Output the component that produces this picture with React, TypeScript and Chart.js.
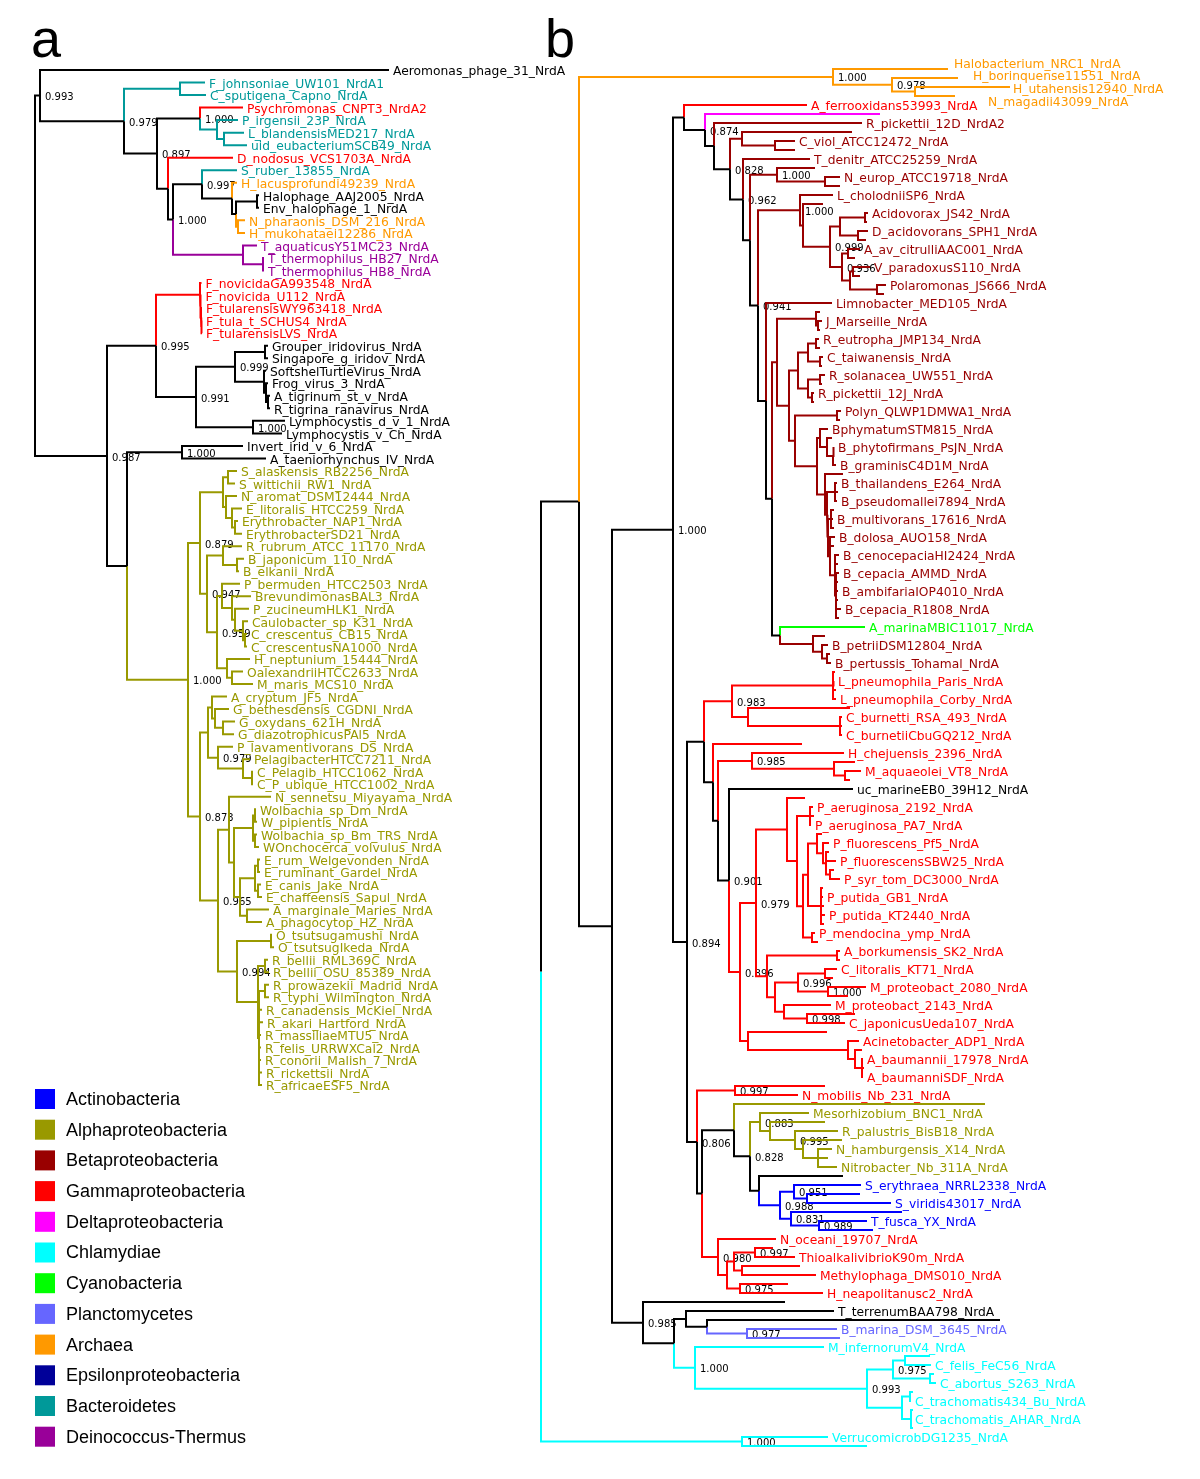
import React, { useEffect, useRef } from "react";
import { Chart, registerables } from "chart.js";

Chart.register(...registerables);

// [id, parent, depth from root, colour key, support value]; leaves use their label as id,
// unlabelled leaves start with "_u".
type TreeNode = [string, string | null, number, string, string?];

const palette: Record<string, string> = {
  k: "#000000",
  ac: "#0000ff",
  al: "#999900",
  be: "#990000",
  ga: "#ff0000",
  de: "#ff00ff",
  ch: "#00ffff",
  cy: "#00ff00",
  pl: "#6666ff",
  ar: "#ff9900",
  ep: "#000099",
  bd: "#009999",
  dt: "#990099",
};

const legendNames = [
  "Actinobacteria",
  "Alphaproteobacteria",
  "Betaproteobacteria",
  "Gammaproteobacteria",
  "Deltaproteobacteria",
  "Chlamydiae",
  "Cyanobacteria",
  "Planctomycetes",
  "Archaea",
  "Epsilonproteobacteria",
  "Bacteroidetes",
  "Deinococcus-Thermus",
];
const legendColors = ["ac", "al", "be", "ga", "de", "ch", "cy", "pl", "ar", "ep", "bd", "dt"];

// ---------------- Panel a ----------------
const treeA_top: TreeNode[] = [
  ["rA", null, 0, "k"],
  ["T", "rA", 5, "k", "0.993"],
  ["Aeromonas_phage_31_NrdA", "T", 354, "k"],
  ["N1", "T", 89, "k", "0.979"],
  ["Bc1", "N1", 145, "bd"],
  ["F_johnsoniae_UW101_NrdA1", "Bc1", 170, "bd"],
  ["C_sputigena_Capno_NrdA", "Bc1", 171, "bd"],
  ["N2", "N1", 122, "k", "0.897"],
  ["N3", "N2", 165, "k", "1.000"],
  ["Psychromonas_CNPT3_NrdA2", "N3", 208, "ga"],
  ["N4", "N3", 182, "bd"],
  ["P_irgensii_23P_NrdA", "N4", 203, "bd"],
  ["N5", "N4", 189, "bd"],
  ["L_blandensisMED217_NrdA", "N5", 209, "bd"],
  ["uid_eubacteriumSCB49_NrdA", "N5", 212, "bd"],
  ["N6", "N2", 133, "k"],
  ["D_nodosus_VCS1703A_NrdA", "N6", 198, "ga"],
  ["N7", "N6", 138, "k", "1.000"],
  ["N8", "N7", 167, "k", "0.997"],
  ["S_ruber_13855_NrdA", "N8", 202, "bd"],
  ["N11", "N8", 197, "k"],
  ["H_lacusprofundi49239_NrdA", "N11", 202, "ar"],
  ["N12", "N11", 201, "k"],
  ["N13", "N12", 222, "k"],
  ["Halophage_AAJ2005_NrdA", "N13", 224, "k"],
  ["Env_halophage_1_NrdA", "N13", 224, "k"],
  ["N14", "N12", 203, "ar"],
  ["N_pharaonis_DSM_216_NrdA", "N14", 210, "ar"],
  ["H_mukohataei12286_NrdA", "N14", 210, "ar"],
  ["N9", "N7", 208, "dt"],
  ["T_aquaticusY51MC23_NrdA", "N9", 222, "dt"],
  ["N10", "N9", 228, "dt"],
  ["T_thermophilus_HB27_NrdA", "N10", 229, "dt"],
  ["T_thermophilus_HB8_NrdA", "N10", 229, "dt"],
];

const treeA_virus: TreeNode[] = [
  ["R2", "rA", 72, "k", "0.987"],
  ["M2", "R2", 121, "k", "0.995"],
  ["F1", "M2", 165, "ga"],
  ["F_novicidaGA993548_NrdA", "F1", 166.5, "ga"],
  ["F2", "F1", 165.5, "ga"],
  ["F_novicida_U112_NrdA", "F2", 166.5, "ga"],
  ["F3", "F2", 166, "ga"],
  ["F_tularensisWY963418_NrdA", "F3", 167, "ga"],
  ["F4", "F3", 166.5, "ga"],
  ["F_tula_t_SCHUS4_NrdA", "F4", 167, "ga"],
  ["F_tularensisLVS_NrdA", "F4", 167, "ga"],
  ["M3", "M2", 161, "k", "0.991"],
  ["M4", "M3", 200, "k", "0.999"],
  ["M5", "M4", 230, "k"],
  ["Grouper_iridovirus_NrdA", "M5", 233, "k"],
  ["Singapore_g_iridov_NrdA", "M5", 233, "k"],
  ["M6", "M4", 229, "k"],
  ["SoftshelTurtleVirus_NrdA", "M6", 231, "k"],
  ["M7", "M6", 231, "k"],
  ["Frog_virus_3_NrdA", "M7", 233, "k"],
  ["M8", "M7", 233, "k"],
  ["A_tigrinum_st_v_NrdA", "M8", 235, "k"],
  ["R_tigrina_ranavirus_NrdA", "M8", 235, "k"],
  ["M9", "M3", 218, "k", "1.000"],
  ["Lymphocystis_d_v_1_NrdA", "M9", 250, "k"],
  ["Lymphocystis_v_Ch_NrdA", "M9", 247, "k"],
];

const treeA_alpha1: TreeNode[] = [
  ["A1", "R2", 92, "k"],
  ["I", "A1", 147, "k", "1.000"],
  ["Invert_irid_v_6_NrdA", "I", 208, "k"],
  ["A_taeniorhynchus_IV_NrdA", "I", 231, "k"],
  ["AL0", "A1", 153, "al", "1.000"],
  ["AL1", "AL0", 165, "al", "0.879"],
  ["Sp2", "AL1", 188, "al"],
  ["Sp1", "Sp2", 193, "al"],
  ["S_alaskensis_RB2256_NrdA", "Sp1", 202, "al"],
  ["S_wittichii_RW1_NrdA", "Sp1", 200, "al"],
  ["SpB", "Sp2", 191, "al"],
  ["N_aromat_DSM12444_NrdA", "SpB", 202, "al"],
  ["E1", "SpB", 197, "al"],
  ["E_litoralis_HTCC259_NrdA", "E1", 207, "al"],
  ["E2", "E1", 200, "al"],
  ["Erythrobacter_NAP1_NrdA", "E2", 203, "al"],
  ["ErythrobacterSD21_NrdA", "E2", 207, "al"],
  ["AL1b", "AL1", 172, "al", "0.947"],
  ["RB", "AL1b", 188, "al"],
  ["R_rubrum_ATCC_11170_NrdA", "RB", 207, "al"],
  ["Br", "RB", 202, "al"],
  ["B_japonicum_110_NrdA", "Br", 209, "al"],
  ["B_elkanii_NrdA", "Br", 204, "al"],
  ["CA", "AL1b", 182, "al", "0.959"],
  ["CB0", "CA", 187, "al"],
  ["P_bermuden_HTCC2503_NrdA", "CB0", 205, "al"],
  ["CB1", "CB0", 197, "al"],
  ["BrevundimonasBAL3_NrdA", "CB1", 216, "al"],
  ["CB2", "CB1", 200, "al"],
  ["P_zucineumHLK1_NrdA", "CB2", 214, "al"],
  ["CC", "CB2", 208, "al"],
  ["Caulobacter_sp_K31_NrdA", "CC", 213, "al"],
  ["CC2", "CC", 210, "al"],
  ["C_crescentus_CB15_NrdA", "CC2", 212, "al"],
  ["C_crescentusNA1000_NrdA", "CC2", 212, "al"],
  ["HY", "CA", 192, "al"],
  ["H_neptunium_15444_NrdA", "HY", 215, "al"],
  ["HY2", "HY", 197, "al"],
  ["OalexandriiHTCC2633_NrdA", "HY2", 208, "al"],
  ["M_maris_MCS10_NrdA", "HY2", 218, "al"],
];

const treeA_alpha2: TreeNode[] = [
  ["AL3", "AL0", 165, "al", "0.873"],
  ["AS", "AL3", 173, "al"],
  ["AC0", "AS", 177, "al"],
  ["A_cryptum_JF5_NrdA", "AC0", 192, "al"],
  ["AC1", "AC0", 180, "al"],
  ["G_bethesdensis_CGDNI_NrdA", "AC1", 194, "al"],
  ["AC2", "AC1", 188, "al"],
  ["G_oxydans_621H_NrdA", "AC2", 200, "al"],
  ["G_diazotrophicusPAl5_NrdA", "AC2", 199, "al"],
  ["SR0", "AS", 183, "al", "0.979"],
  ["P_lavamentivorans_DS_NrdA", "SR0", 198, "al"],
  ["SR1", "SR0", 208, "al"],
  ["PelagibacterHTCC7211_NrdA", "SR1", 215, "al"],
  ["SR2", "SR1", 217, "al"],
  ["C_Pelagib_HTCC1062_NrdA", "SR2", 218, "al"],
  ["C_P_ubique_HTCC1002_NrdA", "SR2", 218, "al"],
  ["AL4", "AL3", 183, "al", "0.965"],
  ["AN", "AL4", 194, "al"],
  ["N_sennetsu_Miyayama_NrdA", "AN", 236, "al"],
  ["AN2", "AN", 199, "al"],
  ["W", "AN2", 218, "al"],
  ["W1", "W", 220, "al"],
  ["Wolbachia_sp_Dm_NrdA", "W1", 221, "al"],
  ["W_pipientis_NrdA", "W1", 222, "al"],
  ["W2", "W", 220, "al"],
  ["Wolbachia_sp_Bm_TRS_NrdA", "W2", 222, "al"],
  ["WOnchocerca_volvulus_NrdA", "W2", 224, "al"],
  ["EA", "AN2", 205, "al"],
  ["Eh", "EA", 220, "al"],
  ["Eh1", "Eh", 223, "al"],
  ["E_rum_Welgevonden_NrdA", "Eh1", 225, "al"],
  ["E_ruminant_Gardel_NrdA", "Eh1", 225, "al"],
  ["Eh2", "Eh", 223, "al"],
  ["E_canis_Jake_NrdA", "Eh2", 226, "al"],
  ["E_chaffeensis_Sapul_NrdA", "Eh2", 227, "al"],
  ["An", "EA", 212, "al"],
  ["A_marginale_Maries_NrdA", "An", 234, "al"],
  ["A_phagocytop_HZ_NrdA", "An", 227, "al"],
  ["RK", "AL4", 202, "al", "0.994"],
  ["Or", "RK", 236, "al"],
  ["O_tsutsugamushi_NrdA", "Or", 237, "al"],
  ["O_tsutsugIkeda_NrdA", "Or", 239, "al"],
  ["RKa", "RK", 223, "al"],
  ["Rb", "RKa", 230, "al"],
  ["R_bellii_RML369C_NrdA", "Rb", 233, "al"],
  ["R_bellii_OSU_85389_NrdA", "Rb", 234, "al"],
  ["Rr", "RKa", 224, "al"],
  ["Rt", "Rr", 230, "al"],
  ["R_prowazekii_Madrid_NrdA", "Rt", 234, "al"],
  ["R_typhi_Wilmington_NrdA", "Rt", 234, "al"],
  ["R_canadensis_McKiel_NrdA", "Rr", 227, "al"],
  ["R_akari_Hartford_NrdA", "Rr", 228, "al"],
  ["R_massiliaeMTU5_NrdA", "Rr", 226, "al"],
  ["R_felis_URRWXCal2_NrdA", "Rr", 226, "al"],
  ["R_conorii_Malish_7_NrdA", "Rr", 226, "al"],
  ["R_rickettsii_NrdA", "Rr", 227, "al"],
  ["R_africaeESF5_NrdA", "Rr", 227, "al"],
];

// ---------------- Panel b ----------------
const treeB_archaea: TreeNode[] = [
  ["AR", "B1", 292, "ar", "1.000"],
  ["Halobacterium_NRC1_NrdA", "AR", 407, "ar"],
  ["AR2", "AR", 351, "ar", "0.978"],
  ["H_borinquense11551_NrdA", "AR2", 417, "ar"],
  ["AR3", "AR2", 374, "ar"],
  ["H_utahensis12940_NrdA", "AR3", 469, "ar"],
  ["N_magadii43099_NrdA", "AR3", 414, "ar"],
];

const treeB_spine: TreeNode[] = [
  ["rB", null, 0, "k"],
  ["B1", "rB", 38, "k"],
  ["B2", "B1", 71, "k"],
  ["B3", "B2", 132, "k", "1.000"],
];

const treeB_beta: TreeNode[] = [
  ["B5", "B3", 143, "k"],
  ["A_ferrooxidans53993_NrdA", "B5", 266, "ga"],
  ["B6", "B5", 164, "k", "0.874"],
  ["_u5", "B6", 339, "de"],
  ["B7", "B6", 173, "k"],
  ["R_pickettii_12D_NrdA2", "B7", 321, "be"],
  ["B8", "B7", 189, "k", "0.828"],
  ["CV", "B8", 201, "be"],
  ["_u7", "CV", 311, "be"],
  ["CV2", "CV", 234, "be"],
  ["C_viol_ATCC12472_NrdA", "CV2", 254, "be"],
  ["_u9", "CV2", 254, "be"],
  ["B9", "B8", 202, "k", "0.962"],
  ["T_denitr_ATCC25259_NrdA", "B9", 269, "be"],
  ["B10", "B9", 209, "k"],
  ["NE", "B10", 236, "be", "1.000"],
  ["_u11", "NE", 274, "be"],
  ["NE2", "NE", 284, "be"],
  ["N_europ_ATCC19718_NrdA", "NE2", 299, "be"],
  ["_u13", "NE2", 299, "be"],
  ["B11", "B10", 217, "k", "0.941"],
  ["CM", "B11", 259, "be", "1.000"],
  ["L_cholodniiSP6_NrdA", "CM", 292, "be"],
  ["CM2", "CM", 262, "be"],
  ["_u15", "CM2", 282, "be"],
  ["CM3", "CM2", 289, "be", "0.999"],
  ["AVa", "CM3", 299, "be"],
  ["AV1", "AVa", 324, "be"],
  ["Acidovorax_JS42_NrdA", "AV1", 327, "be"],
  ["_u17", "AV1", 326, "be"],
  ["AV2", "AVa", 317, "be"],
  ["D_acidovorans_SPH1_NrdA", "AV2", 327, "be"],
  ["_u19", "AV2", 325, "be"],
  ["AVb", "CM3", 301, "be", "0.936"],
  ["AVc", "AVb", 307, "be"],
  ["A_av_citrulliAAC001_NrdA", "AVc", 319, "be"],
  ["_u21", "AVc", 314, "be"],
  ["AVd", "AVb", 309, "be"],
  ["VP", "AVd", 312, "be"],
  ["V_paradoxusS110_NrdA", "VP", 329, "be"],
  ["_u23", "VP", 319, "be"],
  ["PO", "AVd", 336, "be"],
  ["Polaromonas_JS666_NrdA", "PO", 345, "be"],
  ["_u25", "PO", 343, "be"],
  ["B12", "B11", 225, "k"],
  ["Limnobacter_MED105_NrdA", "B12", 291, "be"],
  ["B13", "B12", 231, "k"],
  ["BM", "B13", 236, "be"],
  ["J", "BM", 275, "be"],
  ["_u27", "J", 279, "be"],
  ["J2", "J", 277, "be"],
  ["J_Marseille_NrdA", "J2", 281, "be"],
  ["_u29", "J2", 279, "be"],
  ["RB0", "BM", 248, "be"],
  ["RAL", "RB0", 257, "be"],
  ["RC", "RAL", 267, "be"],
  ["RC1", "RC", 275, "be"],
  ["R_eutropha_JMP134_NrdA", "RC1", 278, "be"],
  ["_u31", "RC1", 279, "be"],
  ["RC2", "RC", 279, "be"],
  ["C_taiwanensis_NrdA", "RC2", 282, "be"],
  ["_u33", "RC2", 281, "be"],
  ["RSP", "RAL", 267, "be"],
  ["RS", "RSP", 279, "be"],
  ["R_solanacea_UW551_NrdA", "RS", 284, "be"],
  ["_u35", "RS", 281, "be"],
  ["RP", "RSP", 271, "be"],
  ["R_pickettii_12J_NrdA", "RP", 273, "be"],
  ["_u37", "RP", 273, "be"],
  ["GB", "B13", 239, "k"],
  ["A_marinaMBIC11017_NrdA", "GB", 324, "cy"],
  ["BO", "GB", 272, "be"],
  ["_u63", "BO", 284, "be"],
  ["BO2", "BO", 281, "be"],
  ["B_petriiDSM12804_NrdA", "BO2", 287, "be"],
  ["BO3", "BO2", 286, "be"],
  ["_u65", "BO3", 289, "be"],
  ["B_pertussis_Tohamal_NrdA", "BO3", 290, "be"],
];

const treeB_burk: TreeNode[] = [
  ["BUR", "RB0", 254, "be"],
  ["PN", "BUR", 296, "be"],
  ["Polyn_QLWP1DMWA1_NrdA", "PN", 300, "be"],
  ["_u39", "PN", 299, "be"],
  ["BK", "BUR", 276, "be"],
  ["BP", "BK", 279, "be"],
  ["BphymatumSTM815_NrdA", "BP", 287, "be"],
  ["BP2", "BP", 286, "be"],
  ["_u41", "BP2", 291, "be"],
  ["BP3", "BP2", 292, "be"],
  ["B_phytofirmans_PsJN_NrdA", "BP3", 293, "be"],
  ["_u43", "BP3", 293, "be"],
  ["B_graminisC4D1M_NrdA", "BP3", 295, "be"],
  ["BX", "BK", 284, "be"],
  ["_u45", "BX", 302, "be"],
  ["BY", "BX", 286, "be"],
  ["TP", "BY", 294, "be"],
  ["B_thailandens_E264_NrdA", "TP", 296, "be"],
  ["_u47", "TP", 297, "be"],
  ["B_pseudomallei7894_NrdA", "TP", 296, "be"],
  ["BZ", "BY", 287, "be"],
  ["BMV", "BZ", 290, "be"],
  ["_u49", "BMV", 293, "be"],
  ["B_multivorans_17616_NrdA", "BMV", 292, "be"],
  ["_u51", "BMV", 293, "be"],
  ["BD", "BZ", 289, "be"],
  ["B_dolosa_AUO158_NrdA", "BD", 294, "be"],
  ["_u53", "BD", 293, "be"],
  ["BCC", "BD", 294, "be"],
  ["B_cenocepaciaHI2424_NrdA", "BCC", 298, "be"],
  ["_u55", "BCC", 297, "be"],
  ["BCC2", "BCC", 295, "be"],
  ["B_cepacia_AMMD_NrdA", "BCC2", 298, "be"],
  ["_u57", "BCC2", 297, "be"],
  ["B_ambifariaIOP4010_NrdA", "BCC2", 297, "be"],
  ["_u59", "BCC2", 297, "be"],
  ["B_cepacia_R1808_NrdA", "BCC2", 300, "be"],
  ["_u61", "BCC2", 298, "be"],
];

const treeB_gamma: TreeNode[] = [
  ["B14", "B3", 146, "k", "0.894"],
  ["B15", "B14", 163, "k"],
  ["G1", "B15", 191, "ga", "0.983"],
  ["LP", "G1", 292, "ga"],
  ["_u67", "LP", 294, "ga"],
  ["L_pneumophila_Paris_NrdA", "LP", 293, "ga"],
  ["_u69", "LP", 295, "ga"],
  ["L_pneumophila_Corby_NrdA", "LP", 295, "ga"],
  ["CX", "G1", 207, "ga"],
  ["_u71", "CX", 309, "ga"],
  ["Cox", "CX", 299, "ga"],
  ["C_burnetti_RSA_493_NrdA", "Cox", 301, "ga"],
  ["_u73", "Cox", 301, "ga"],
  ["C_burnetiiCbuGQ212_NrdA", "Cox", 301, "ga"],
  ["B16", "B15", 172, "k"],
  ["_u75", "B16", 261, "ga"],
  ["B17", "B16", 177, "k"],
  ["HM", "B17", 211, "ga", "0.985"],
  ["H_chejuensis_2396_NrdA", "HM", 303, "ga"],
  ["MA", "HM", 293, "ga"],
  ["_u77", "MA", 314, "ga"],
  ["MA2", "MA", 304, "ga"],
  ["M_aquaeolei_VT8_NrdA", "MA2", 320, "ga"],
  ["_u79", "MA2", 309, "ga"],
  ["B18", "B17", 188, "k", "0.901"],
  ["uc_marineEB0_39H12_NrdA", "B18", 312, "k"],
  ["G3", "B18", 199, "ga", "0.896"],
  ["G4", "G3", 215, "ga", "0.979"],
  ["PS", "G4", 246, "ga"],
  ["_u81", "PS", 264, "ga"],
  ["PS2", "PS", 256, "ga"],
  ["PAe", "PS2", 269, "ga"],
  ["P_aeruginosa_2192_NrdA", "PAe", 272, "ga"],
  ["_u83", "PAe", 273, "ga"],
  ["P_aeruginosa_PA7_NrdA", "PAe", 270, "ga"],
  ["PS3", "PS2", 262, "ga"],
  ["PFP", "PS3", 267, "ga"],
  ["PF", "PFP", 276, "ga"],
  ["_u85", "PF", 281, "ga"],
  ["PF2", "PF", 282, "ga"],
  ["P_fluorescens_Pf5_NrdA", "PF2", 288, "ga"],
  ["PF3", "PF2", 285, "ga"],
  ["_u87", "PF3", 288, "ga"],
  ["P_fluorescensSBW25_NrdA", "PF3", 295, "ga"],
  ["PF4", "PF3", 289, "ga"],
  ["_u89", "PF4", 293, "ga"],
  ["P_syr_tom_DC3000_NrdA", "PF4", 299, "ga"],
  ["PP", "PFP", 280, "ga"],
  ["_u91", "PP", 282, "ga"],
  ["P_putida_GB1_NrdA", "PP", 282, "ga"],
  ["_u93", "PP", 283, "ga"],
  ["P_putida_KT2440_NrdA", "PP", 284, "ga"],
  ["_u95", "PP", 283, "ga"],
  ["PM", "PS3", 271, "ga"],
  ["P_mendocina_ymp_NrdA", "PM", 274, "ga"],
  ["_u97", "PM", 277, "ga"],
  ["AB", "G4", 226, "ga"],
  ["ABk", "AB", 296, "ga"],
  ["A_borkumensis_SK2_NrdA", "ABk", 299, "ga"],
  ["_u99", "ABk", 299, "ga"],
  ["CL", "AB", 234, "ga"],
  ["CL1", "CL", 257, "ga", "0.996"],
  ["CLit", "CL1", 284, "ga"],
  ["C_litoralis_KT71_NrdA", "CLit", 296, "ga"],
  ["_u101", "CLit", 292, "ga"],
  ["MP", "CL1", 287, "ga", "1.000"],
  ["M_proteobact_2080_NrdA", "MP", 325, "ga"],
  ["_u103", "MP", 307, "ga"],
  ["CL2", "CL", 243, "ga"],
  ["M_proteobact_2143_NrdA", "CL2", 290, "ga"],
  ["CJ", "CL2", 266, "ga", "0.998"],
  ["_u105", "CJ", 314, "ga"],
  ["C_japonicusUeda107_NrdA", "CJ", 304, "ga"],
  ["AC", "G3", 207, "ga"],
  ["_u107", "AC", 286, "ga"],
  ["ACI", "AC", 307, "ga"],
  ["Acinetobacter_ADP1_NrdA", "ACI", 318, "ga"],
  ["ACI2", "ACI", 314, "ga"],
  ["_u109", "ACI2", 321, "ga"],
  ["ACI3", "ACI2", 321, "ga"],
  ["A_baumannii_17978_NrdA", "ACI3", 322, "ga"],
  ["_u111", "ACI3", 323, "ga"],
  ["A_baumanniSDF_NrdA", "ACI3", 322, "ga"],
];

const treeB_lower: TreeNode[] = [
  ["B19", "B14", 156, "k", "0.806"],
  ["NM", "B19", 194, "ga", "0.997"],
  ["_u113", "NM", 284, "ga"],
  ["N_mobilis_Nb_231_NrdA", "NM", 257, "ga"],
  ["B20", "B19", 161, "k"],
  ["B21", "B20", 193, "k"],
  ["_u115", "B21", 444, "al"],
  ["B22", "B21", 209, "k", "0.828"],
  ["MZ", "B22", 219, "al", "0.883"],
  ["Mesorhizobium_BNC1_NrdA", "MZ", 268, "al"],
  ["MZ2", "MZ", 229, "al"],
  ["_u117", "MZ2", 284, "al"],
  ["RPN", "MZ2", 254, "al", "0.995"],
  ["R_palustris_BisB18_NrdA", "RPN", 297, "al"],
  ["RPN2", "RPN", 262, "al"],
  ["_u119", "RPN2", 301, "al"],
  ["NH", "RPN2", 277, "al"],
  ["N_hamburgensis_X14_NrdA", "NH", 291, "al"],
  ["_u121", "NH", 287, "al"],
  ["Nitrobacter_Nb_311A_NrdA", "NH", 296, "al"],
  ["B23", "B22", 218, "k"],
  ["_u123", "B23", 302, "k"],
  ["ACT", "B23", 239, "ac", "0.988"],
  ["SE", "ACT", 253, "ac", "0.951"],
  ["S_erythraea_NRRL2338_NrdA", "SE", 320, "ac"],
  ["SE2", "SE", 266, "ac"],
  ["_u125", "SE2", 319, "ac"],
  ["S_viridis43017_NrdA", "SE2", 350, "ac"],
  ["TF", "ACT", 250, "ac", "0.831"],
  ["_u127", "TF", 361, "ac"],
  ["TF2", "TF", 278, "ac", "0.989"],
  ["T_fusca_YX_NrdA", "TF2", 326, "ac"],
  ["_u129", "TF2", 332, "ac"],
  ["G5", "B20", 177, "ga", "0.980"],
  ["N_oceani_19707_NrdA", "G5", 235, "ga"],
  ["G6", "G5", 186, "ga"],
  ["TH", "G6", 193, "ga"],
  ["TH1", "TH", 214, "ga", "0.997"],
  ["_u131", "TH1", 232, "ga"],
  ["ThioalkalivibrioK90m_NrdA", "TH1", 254, "ga"],
  ["TH2", "TH", 201, "ga"],
  ["_u133", "TH2", 259, "ga"],
  ["Methylophaga_DMS010_NrdA", "TH2", 275, "ga"],
  ["HN", "G6", 199, "ga", "0.975"],
  ["_u135", "HN", 247, "ga"],
  ["H_neapolitanusc2_NrdA", "HN", 282, "ga"],
];

const treeB_base: TreeNode[] = [
  ["B4", "B2", 102, "k", "0.985"],
  ["_u137", "B4", 244, "k"],
  ["B25", "B4", 133, "k"],
  ["B26", "B25", 145, "k"],
  ["T_terrenumBAA798_NrdA", "B26", 293, "k"],
  ["B27", "B26", 166, "k"],
  ["_u139", "B27", 459, "k"],
  ["BM2", "B27", 206, "pl", "0.977"],
  ["B_marina_DSM_3645_NrdA", "BM2", 296, "pl"],
  ["_u141", "BM2", 299, "pl"],
  ["CH", "B25", 154, "ch", "1.000"],
  ["M_infernorumV4_NrdA", "CH", 283, "ch"],
  ["CH2", "CH", 326, "ch", "0.993"],
  ["CF", "CH2", 352, "ch", "0.975"],
  ["CFa", "CF", 364, "ch"],
  ["_u143", "CFa", 389, "ch"],
  ["C_felis_FeC56_NrdA", "CFa", 390, "ch"],
  ["CFb", "CF", 389, "ch"],
  ["_u145", "CFb", 393, "ch"],
  ["C_abortus_S263_NrdA", "CFb", 395, "ch"],
  ["CT", "CH2", 361, "ch"],
  ["CTa", "CT", 369, "ch"],
  ["_u147", "CTa", 372, "ch"],
  ["C_trachomatis434_Bu_NrdA", "CTa", 370, "ch"],
  ["CTb", "CT", 370, "ch"],
  ["_u149", "CTb", 372, "ch"],
  ["C_trachomatis_AHAR_NrdA", "CTb", 370, "ch"],
  ["_u151", "CTb", 372, "ch"],
  ["V", "rB", 201, "ch", "1.000"],
  ["VerrucomicrobDG1235_NrdA", "V", 287, "ch"],
  ["_u153", "V", 326, "ch"],
];

// label tweaks where the original figure spreads crowded labels apart
const labelNudges: Record<string, [number, number]> = {
  Halobacterium_NRC1_NrdA: [2, -6],
  H_borinquense11551_NrdA: [11, -3],
  H_utahensis12940_NrdA: [-1, 1],
  N_magadii43099_NrdA: [29, 5],
};

// ---------------- layout helpers ----------------
interface LaidNode {
  id: string;
  parent: string | null;
  depth: number;
  color: string;
  support: string;
  y: number;
  leaf: boolean;
}

function layoutTree(nodes: TreeNode[]) {
  const info = new Map<string, LaidNode>();
  const kids = new Map<string, string[]>();
  let root = "";
  nodes.forEach(([id, parent, depth, color, support]) => {
    info.set(id, { id, parent, depth, color, support: support || "", y: 0, leaf: true });
    if (parent === null) root = id;
    else {
      if (!kids.has(parent)) kids.set(parent, []);
      kids.get(parent)!.push(id);
    }
  });
  let leafIndex = 0;
  const visit = (id: string): number => {
    const n = info.get(id)!;
    const ch = kids.get(id);
    if (!ch || ch.length === 0) {
      n.leaf = true;
      n.y = leafIndex++;
      return n.y;
    }
    n.leaf = false;
    const ys = ch.map(visit);
    n.y = (ys[0] + ys[ys.length - 1]) / 2;
    return n.y;
  };
  visit(root);
  return info;
}

const panelA = layoutTree([...treeA_top, ...treeA_virus, ...treeA_alpha1, ...treeA_alpha2]);
const panelB = layoutTree([
  ...treeB_archaea,
  ...treeB_spine,
  ...treeB_beta,
  ...treeB_burk,
  ...treeB_gamma,
  ...treeB_lower,
  ...treeB_base,
]);

function branchDatasets(tree: Map<string, LaidNode>, xAxisID: string, yAxisID: string) {
  const groups = new Map<string, { x: number; y: number | null }[]>();
  tree.forEach((n) => {
    if (n.parent === null) return;
    const p = tree.get(n.parent)!;
    const arr = groups.get(n.color) || [];
    if (arr.length) arr.push({ x: p.depth, y: null });
    arr.push({ x: p.depth, y: p.y }, { x: p.depth, y: n.y }, { x: n.depth, y: n.y });
    groups.set(n.color, arr);
  });
  return Array.from(groups.entries()).map(([color, data]) => ({
    data,
    showLine: true,
    spanGaps: false,
    borderColor: palette[color],
    backgroundColor: palette[color],
    borderWidth: 2,
    pointRadius: 0,
    pointHoverRadius: 0,
    pointHitRadius: 0,
    tension: 0,
    xAxisID,
    yAxisID,
  }));
}

const TREE_FONT = "'DejaVu Sans', Verdana, sans-serif";
const LEGEND_FONT = "'Liberation Sans', Arial, sans-serif";

const panels = [
  { tree: panelA, x: "xa", y: "ya" },
  { tree: panelB, x: "xb", y: "yb" },
];

const treeTextPlugin = {
  id: "treeText",
  beforeDatasetsDraw(chart: any) {
    const ctx: CanvasRenderingContext2D = chart.ctx;
    ctx.save();
    ctx.font = `10px ${TREE_FONT}`;
    ctx.fillStyle = "#000";
    ctx.textAlign = "left";
    ctx.textBaseline = "middle";
    panels.forEach(({ tree, x, y }) => {
      const xs = chart.scales[x];
      const ys = chart.scales[y];
      tree.forEach((n) => {
        if (n.leaf || !n.support) return;
        ctx.fillText(n.support, xs.getPixelForValue(n.depth) + 5, ys.getPixelForValue(n.y) + 2);
      });
    });
    ctx.restore();
  },
  afterDatasetsDraw(chart: any) {
    const ctx: CanvasRenderingContext2D = chart.ctx;
    ctx.save();
    ctx.textAlign = "left";
    ctx.textBaseline = "middle";
    ctx.font = `12.3px ${TREE_FONT}`;
    panels.forEach(({ tree, x, y }) => {
      const xs = chart.scales[x];
      const ys = chart.scales[y];
      tree.forEach((n) => {
        if (!n.leaf || n.id.startsWith("_u")) return;
        const nudge = labelNudges[n.id] || [0, 0];
        ctx.fillStyle = palette[n.color];
        ctx.fillText(
          n.id,
          xs.getPixelForValue(n.depth) + 4 + nudge[0],
          ys.getPixelForValue(n.y) + 2 + nudge[1]
        );
      });
    });

    // legend
    ctx.font = `18px ${LEGEND_FONT}`;
    legendNames.forEach((name, i) => {
      const cy = 1099 + i * 30.7;
      ctx.fillStyle = palette[legendColors[i]];
      ctx.fillRect(35, cy - 10, 20, 20);
      ctx.fillStyle = "#000";
      ctx.fillText(name, 66, cy + 1);
    });

    // panel letters
    ctx.font = `54px ${LEGEND_FONT}`;
    ctx.textBaseline = "alphabetic";
    ctx.fillStyle = "#000";
    ctx.fillText("a", 31, 57);
    ctx.fillText("b", 545, 57);
    ctx.restore();
  },
};

const W = 1200;
const H = 1479;
const rowA = (1085 - 70) / 81;
const rowB = 9;

export default function App() {
  const canvasRef = useRef<HTMLCanvasElement | null>(null);

  useEffect(() => {
    if (!canvasRef.current) return;
    const datasets = [
      ...branchDatasets(panelA, "xa", "ya"),
      ...branchDatasets(panelB, "xb", "yb"),
    ];
    const chart = new Chart(canvasRef.current, {
      type: "scatter",
      data: { datasets: datasets as any },
      options: {
        animation: false,
        responsive: false,
        devicePixelRatio: 1,
        events: [],
        layout: { padding: 0 },
        plugins: {
          legend: { display: false },
          tooltip: { enabled: false },
          title: { display: false },
        },
        scales: {
          xa: { type: "linear", axis: "x", display: false, min: -35, max: W - 35 },
          ya: { type: "linear", axis: "y", display: false, reverse: true, min: -70 / rowA, max: (H - 70) / rowA },
          xb: { type: "linear", axis: "x", display: false, min: -541, max: W - 541 },
          yb: { type: "linear", axis: "y", display: false, reverse: true, min: -69 / rowB, max: (H - 69) / rowB },
        } as any,
      },
      plugins: [treeTextPlugin],
    });
    return () => chart.destroy();
  }, []);

  return (
    <div style={{ position: "absolute", left: 0, top: 0, width: W, height: H, background: "#fff" }}>
      <canvas ref={canvasRef} width={W} height={H} style={{ display: "block" }} />
    </div>
  );
}
